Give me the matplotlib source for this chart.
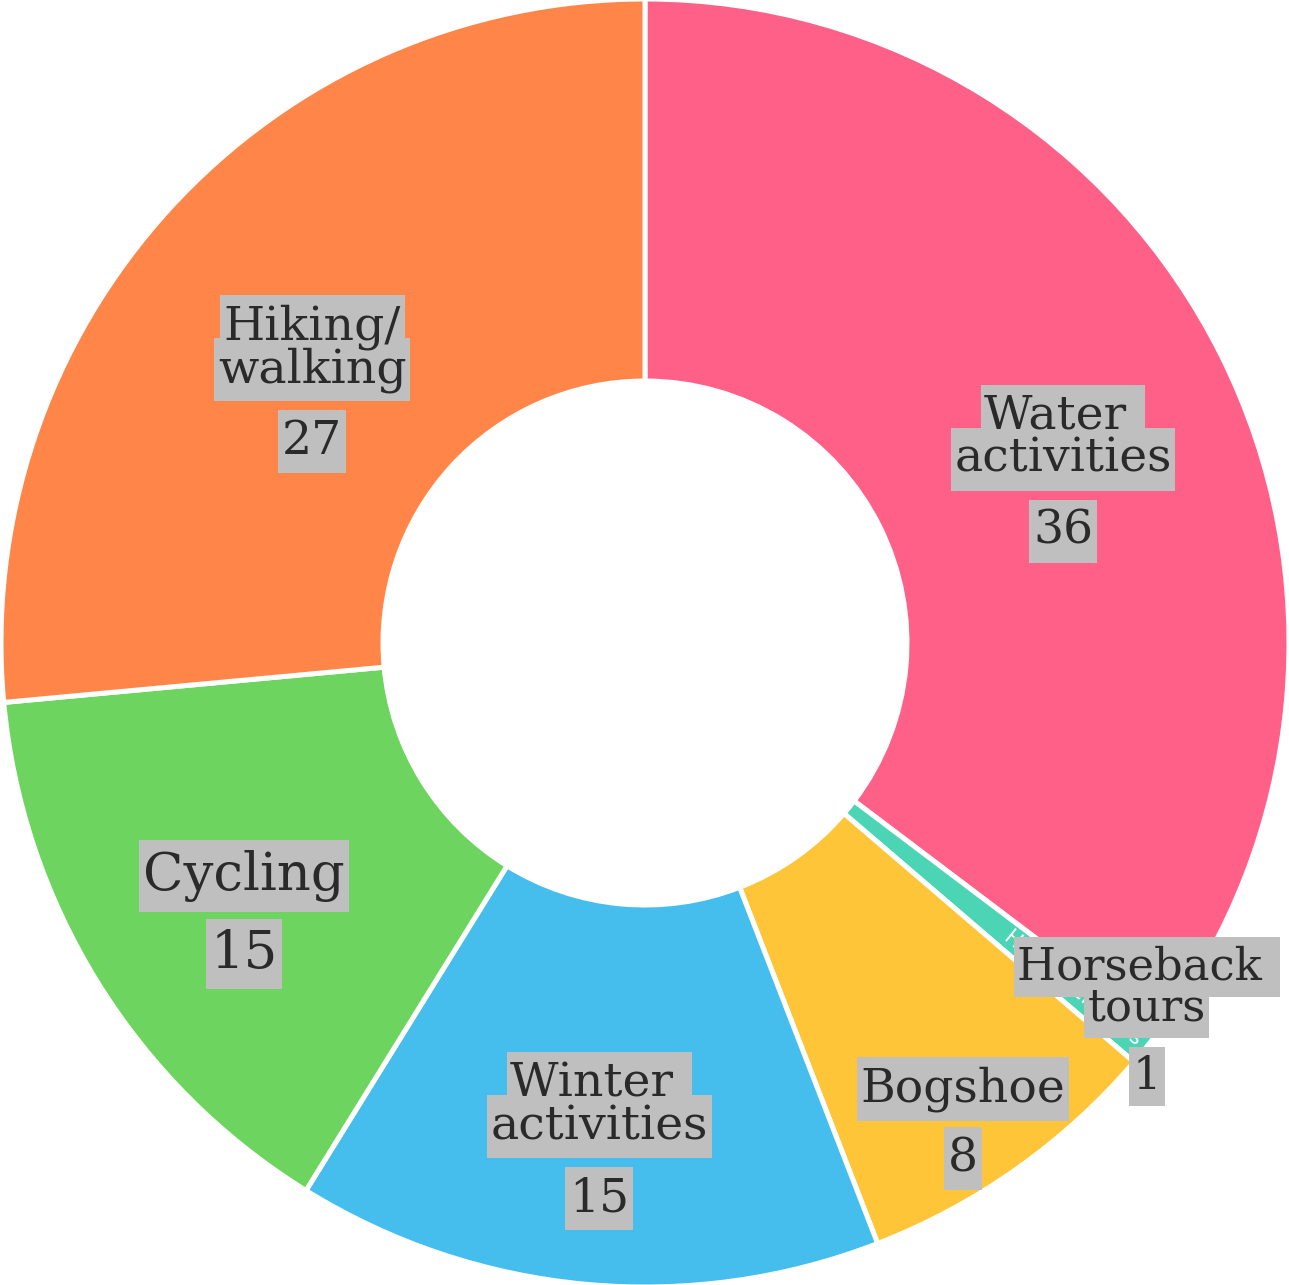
import numpy as np
import matplotlib
matplotlib.use('Agg')
import matplotlib.pyplot as plt

# Data
labels = ['Water\nactivities', 'Horseback\ntours', 'Bogshoe', 'Winter\nactivities', 'Cycling', 'Hiking/\nwalking']
values = [36, 1, 8, 15, 15, 27]
colors = ['#ff6088', '#4bd5b5', '#ffc538', '#45beee', '#6dd55f', '#ff8548']

# label placement tweaks (radius in px, angle nudge in deg, font scale)
lab_r = [453, 626, 572, 495, 481, 425]
lab_dang = [-3.8, 2.1, -1.5, 0.0, 1.8, 3.9]
lab_scale = [1.0, 0.95, 1.0, 1.0, 1.12, 1.0]

W, H = 1289, 1285
cx, cy = 645, 642
R = 644
hole = 262

text_color = '#2a2a2a'
box_color = '#bfbfbf'
font = 'DejaVu Serif'
base_fs = 34  # points

fig = plt.figure(figsize=(W / 100, H / 100), dpi=100)
ax = fig.add_axes([0, 0, 1, 1])

wedges, _ = ax.pie(values, colors=colors, startangle=90, counterclock=False,
                   center=(cx, cy), radius=R, frame=True,
                   wedgeprops=dict(width=R - hole, edgecolor='white', linewidth=3.6))
ax.set_xlim(0, W)
ax.set_ylim(0, H)
ax.set_aspect('equal')
ax.axis('off')

# tiny rotated text inside the thin slice
w = wedges[1]
mid = np.deg2rad((w.theta1 + w.theta2) / 2)
ax.text(cx + 550 * np.cos(mid), cy + 550 * np.sin(mid), 'Horseback tours',
        rotation=np.rad2deg(mid), ha='center', va='center', color='white',
        fontsize=15, family='DejaVu Sans', rotation_mode='anchor', zorder=2)


def draw_line(x, y, s, fs):
    # box first (no text), then the text on top so descenders stay visible
    ax.text(x, y, s, ha='center', va='baseline', fontsize=fs, family=font,
            color='none', zorder=3,
            bbox=dict(boxstyle='square,pad=0.08', fc=box_color, ec='none',
                      mutation_aspect=2.3))
    ax.text(x, y, s, ha='center', va='baseline', fontsize=fs, family=font,
            color=text_color, zorder=4)


for w, lab, val, r, da, sc in zip(wedges, labels, values, lab_r, lab_dang, lab_scale):
    ang = np.deg2rad((w.theta1 + w.theta2) / 2 + da)
    gx = cx + r * np.cos(ang)
    gy = (H - cy) - r * np.sin(ang)  # image coords (y down)
    lines = lab.split('\n')
    n = len(lines)
    cap = 36 * sc
    gap_line = 43 * sc
    gap_num = 72 * sc if n > 1 else 70 * sc
    b0 = gy - ((n - 1) * gap_line + gap_num - cap) / 2
    fs = base_fs * sc
    for i, ln in enumerate(lines):
        txt = ln + ' ' if (n > 1 and i == 0 and not ln.endswith('/')) else ln
        draw_line(gx, H - (b0 + i * gap_line), txt, fs)
    draw_line(gx, H - (b0 + (n - 1) * gap_line + gap_num), str(val), fs)

fig.savefig('out.png', dpi=100)
